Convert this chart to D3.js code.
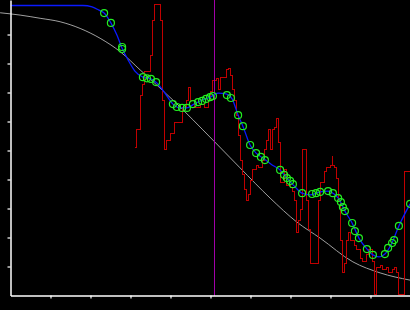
<!DOCTYPE html>
<html>
<head>
<meta charset="utf-8">
<script src="https://cdn.jsdelivr.net/npm/d3@7"></script>
<style>
html,body{margin:0;padding:0;background:#000;}
svg{display:block;background:#000;}
</style>
</head>
<body>
<svg id="chart" width="410" height="310"></svg>
<script>
// ---- data (x and y in percent of full scale) ----
const tickValues = [10,20,30,40,50,60,70,80,90];

const redX = [31.1,31.4,31.6,32.4,32.6,32.9,33.4,35.1,35.4,35.6,36.1,37.6,37.9,38.1,38.4,38.6,39.1,39.9,41.1,42.9,43.9,44.4,45.1,46.1,47.4,48.6,49.4,50.1,50.6,51.4,51.9,52.4,53.4,54.1,54.6,55.1,55.6,56.1,56.6,57.1,57.6,58.1,58.6,59.1,59.6,60.1,60.6,61.4,62.1,62.9,63.6,64.1,64.6,65.1,65.4,66.1,66.4,66.9,67.1,67.6,68.4,69.1,69.9,70.6,71.1,71.4,71.9,72.4,72.9,73.9,74.4,74.9,77.1,77.6,78.4,79.1,79.9,80.4,80.6,81.1,81.6,82.1,82.4,82.9,83.4,83.9,84.4,85.1,85.9,86.6,87.4,88.1,88.9,89.6,90.4,90.9,91.6,92.4,93.1,93.9,94.6,95.4,96.1,96.6,97.1,98.6,100];
const redY = [50.9,54.3,57.4,64.0,69.1,72.6,77.1,82.9,89.8,95.0,100.2,95.0,84.7,67.4,57.1,50.2,53.6,56.0,59.8,65.0,67.4,71.6,67.4,65.0,65.7,64.7,67.4,70.2,74.3,75.0,70.9,75.3,75.3,77.8,78.4,76.0,70.9,67.4,62.2,55.3,46.7,41.6,36.4,32.9,34.7,39.8,43.3,45.0,44.0,46.7,50.2,53.6,57.1,50.2,57.1,57.8,60.9,57.1,52.6,38.8,43.3,38.1,37.1,35.7,32.9,21.6,26.0,29.5,50.2,32.9,22.6,11.2,32.9,39.1,42.6,44.3,45.0,47.8,45.0,44.3,40.5,32.9,19.1,8.1,11.2,19.1,21.6,19.1,17.4,15.7,12.9,11.6,14.0,15.7,11.6,0.3,9.8,10.5,8.8,9.5,8.1,8.8,9.5,8.1,0.3,42.6,42.6];

const blueX = [0,18.1,20.4,22.1,23.4,25.1,26.6,27.9,29.4,31.1,33.1,35.1,36.6,38.6,40.6,42.4,44.1,45.9,47.9,49.9,51.9,53.9,55.4,56.9,58.1,59.9,61.4,63.1,65.4,67.4,69.1,70.9,72.9,74.9,77.4,79.4,80.9,82.4,83.6,85.4,87.1,88.9,90.6,92.1,93.6,95.1,97.1,99.9];
const blueY = [100,100,99.5,98.4,97.4,94.0,89.8,85.3,81.2,77.4,75.3,74.7,73.3,69.8,66.0,64.7,64.7,66.0,67.4,68.4,69.8,69.5,67.8,62.2,58.4,51.9,49.1,47.4,45.0,43.3,40.5,37.8,35.3,34.7,35.7,36.0,35.0,32.6,29.1,25.0,19.8,16.4,14.0,13.3,14.3,17.4,24.0,31.6];

const markX = [23.4,25.1,27.9,27.9,33.1,34.1,35.1,36.4,40.6,41.6,42.9,44.1,45.6,46.9,47.9,48.9,49.9,50.6,54.1,55.1,56.9,58.1,59.9,61.4,62.6,63.6,67.4,68.4,69.1,69.9,70.6,72.9,75.4,76.4,77.4,79.4,80.6,81.9,82.6,83.1,83.6,85.4,86.1,87.1,89.1,90.6,93.6,94.4,95.4,95.9,97.1,99.9];
const markY = [97.4,94.0,85.7,85.0,75.3,74.9,74.7,73.6,66.0,65.0,64.7,64.7,66.0,66.7,67.1,67.8,68.4,68.8,69.1,68.1,62.2,58.4,51.9,49.1,47.8,46.7,43.3,41.6,40.5,39.5,38.4,35.3,35.0,35.3,35.7,36.0,35.3,33.6,32.2,30.5,29.1,25.0,22.2,19.8,16.0,14.0,14.3,16.4,18.1,19.1,24.0,31.6];

const greyX = [-2.6,2.4,7.4,12.4,17.4,22.4,27.4,32.4,40.6,50.6,57.4,64.9,71.6,77.4,85.6,92.4,99.9];
const greyY = [97.5,96.7,95.6,94.4,92.1,88.7,84.1,77.8,67.4,53.6,44.0,33.6,25.3,19.8,11.6,7.8,5.3];

const markerX = 51.0;

// ---- scales ----
const svg = d3.select("#chart");
const x = d3.scaleLinear().domain([0,100]).range([10.5,410.5]);
const y = d3.scaleLinear().domain([0,101.9]).range([295.5,0]);

const zip = (xs, ys) => xs.map((v,i)=>[v, ys[i]]);

// grey curve
svg.append("path")
  .datum(zip(greyX, greyY))
  .attr("fill","none").attr("stroke","#a0a0a0").attr("stroke-width",1)
  .attr("d", d3.line().x(d=>x(d[0])).y(d=>y(d[1])).curve(d3.curveMonotoneX));

// red noisy step line
svg.append("path")
  .datum(zip(redX, redY))
  .attr("fill","none").attr("stroke","#c00000").attr("stroke-width",1)
  .attr("shape-rendering","crispEdges")
  .attr("d", d3.line().x(d=>x(d[0])).y(d=>y(d[1])).curve(d3.curveStepAfter));

// magenta marker line
svg.append("line")
  .attr("x1", x(markerX)).attr("x2", x(markerX))
  .attr("y1", 0).attr("y2", y(0))
  .attr("stroke","#a000a8").attr("stroke-width",1)
  .attr("shape-rendering","crispEdges");

// blue smooth line
svg.append("path")
  .datum(zip(blueX, blueY))
  .attr("fill","none").attr("stroke","#0a1aff").attr("stroke-width",1.3)
  .attr("d", d3.line().x(d=>x(d[0])).y(d=>y(d[1])).curve(d3.curveMonotoneX));

// green circle markers
svg.append("g").selectAll("circle")
  .data(zip(markX, markY))
  .join("circle")
  .attr("cx", d=>x(d[0])).attr("cy", d=>y(d[1])).attr("r", 3.5)
  .attr("fill","none").attr("stroke","#22ee22").attr("stroke-width",1.2);

// axes
const xAxis = d3.axisBottom(x).tickValues(tickValues).tickSize(3).tickSizeOuter(0).tickFormat("");
const yAxis = d3.axisLeft(y).tickValues(tickValues).tickSize(3).tickSizeOuter(0).tickFormat("");
const gx = svg.append("g").attr("transform", `translate(0,${y(0)})`).call(xAxis);
const gy = svg.append("g").attr("transform", `translate(${x(0)},0)`).call(yAxis);
[gx, gy].forEach(g => {
  g.selectAll("path.domain").attr("stroke","#fff").attr("stroke-width",1.5);
  g.selectAll(".tick line").attr("stroke","#fff").attr("stroke-width",1.2);
});
</script>
</body>
</html>
